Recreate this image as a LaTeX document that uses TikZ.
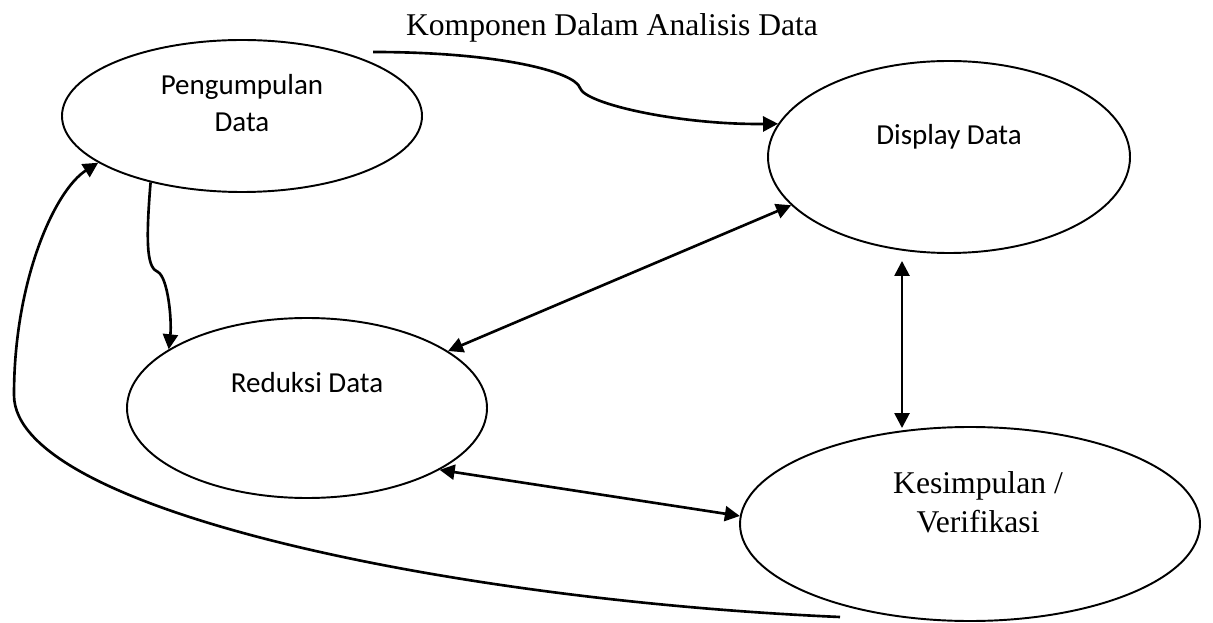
\documentclass[tikz,border=0pt]{standalone}
\usepackage{fontspec}
\setmainfont{Liberation Serif}
\newfontfamily\calibri{Carlito}
\usetikzlibrary{arrows.meta,shapes.geometric}

\begin{document}
\begin{tikzpicture}[
        proses/.style={ellipse, draw, line width=1.1pt, inner sep=0pt},
        teks/.style={align=center, font=\calibri\fontsize{16.5}{21}\selectfont},
        arrow/.style={-{Triangle[length=0.3cm, width=0.3cm]}, line width=1.5pt},
        dbl/.style={{Triangle[length=0.3cm, width=0.3cm]}-{Triangle[length=0.3cm, width=0.3cm]}, line width=1.5pt}
    ]
        \useasboundingbox (0,0) rectangle (24.26,12.44);

        % Title
        \node[font=\fontsize{18}{22}\selectfont] (judul) at (12.24,11.88) {Komponen Dalam Analisis Data};

        % Components
        \node[proses, minimum width=7.2cm, minimum height=3.04cm] (kumpul) at (4.84,10.12) {};
        \node[teks] (kumpulteks) at ([yshift=0.26cm]kumpul.center) {Pengumpulan\\Data};

        \node[proses, minimum width=7.24cm, minimum height=3.84cm] (display) at (18.98,9.30) {};
        \node[teks] (displayteks) at ([yshift=0.4cm]display.center) {Display Data};

        \node[proses, minimum width=7.2cm, minimum height=3.6cm] (reduksi) at (6.14,4.28) {};
        \node[teks] (reduksiteks) at ([yshift=0.5cm]reduksi.center) {Reduksi Data};

        \node[proses, minimum width=9.2cm, minimum height=3.88cm] (simpul) at (19.4,1.96) {};
        \node[align=center, font=\fontsize{18}{22}\selectfont] (simpulteks) at ([xshift=0.16cm, yshift=0.44cm]simpul.center) {Kesimpulan /\\Verifikasi};

        % Free ends
        \coordinate (awal) at (7.46,11.40);
        \coordinate (balik) at (16.8,0.10);

        % Arrows
        \draw[arrow] (awal) .. controls (10.0,11.40) and (11.5,11.00) .. (11.6,10.68)
            .. controls (11.7,10.36) and (13.6,9.94) .. (display.169);
        \draw[arrow] (kumpul.216) .. controls (2.90,7.44) and (2.96,7.08) .. (3.16,7.00)
            .. controls (3.36,6.88) and (3.44,6.04) .. (reduksi.157);
        \draw[dbl] (reduksi.22) -- (display.197);
        \draw[dbl] ([xshift=-0.94cm, yshift=-0.14cm]display.south) -- ([xshift=-1.36cm, yshift=-0.04cm]simpul.north);
        \draw[dbl] (reduksi.335) -- (simpul.178);
        \draw[arrow] (balik) .. controls (9.0,0.44) and (0.28,2.24) .. (0.28,4.54)
            .. controls (0.28,6.84) and (1.10,8.64) .. (kumpul.198);
    \end{tikzpicture}
\end{document}
